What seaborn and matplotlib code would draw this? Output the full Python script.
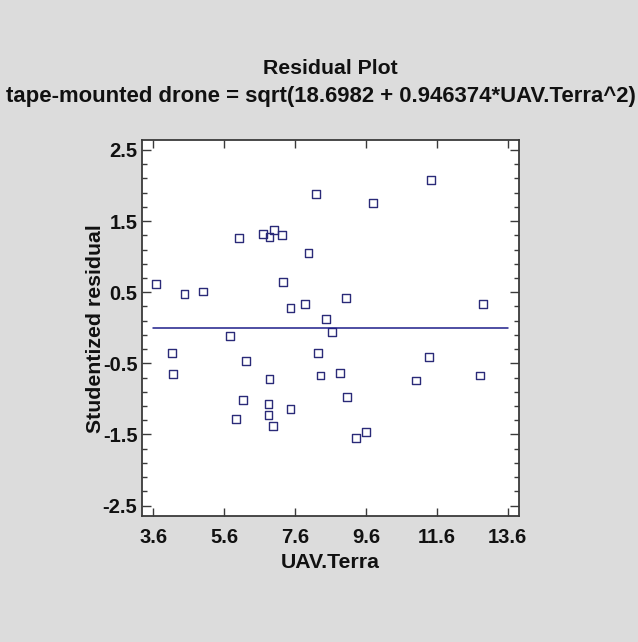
import numpy as np
import pandas as pd
import matplotlib
matplotlib.use("Agg")
import matplotlib.pyplot as plt
from matplotlib.ticker import FixedLocator, MultipleLocator
import seaborn as sns

# ---- data ----
uav_terra = [3.67, 4.48, 5.00, 6.01, 6.69, 6.88, 7.01, 7.23, 7.25, 7.47, 7.89, 7.98, 5.76,
             4.13, 4.16, 6.22, 6.88, 6.13, 6.85, 6.85, 5.94, 6.98, 7.47,
             8.19, 9.80, 11.44, 9.04, 8.47, 8.64, 12.91,
             8.26, 8.32, 8.88, 9.07, 9.33, 9.61, 11.39, 11.01, 12.82]
stud_resid = [0.61, 0.47, 0.51, 1.26, 1.32, 1.28, 1.37, 1.31, 0.64, 0.28, 0.34, 1.05, -0.11,
              -0.35, -0.65, -0.47, -0.72, -1.02, -1.07, -1.22, -1.28, -1.38, -1.14,
              1.88, 1.76, 2.08, 0.42, 0.12, -0.06, 0.34,
              -0.36, -0.67, -0.63, -0.97, -1.55, -1.47, -0.41, -0.74, -0.67]
zero_line_x = [3.6, 13.6]
zero_line_y = [0.0, 0.0]
x_ticks = [3.6, 5.6, 7.6, 9.6, 11.6, 13.6]
y_ticks = [-2.5, -1.5, -0.5, 0.5, 1.5, 2.5]
title_1 = "Residual Plot"
title_2 = "tape-mounted drone = sqrt(18.6982 + 0.946374*UAV.Terra^2)"
x_label = "UAV.Terra"
y_label = "Studentized residual"

df = pd.DataFrame({"x": uav_terra, "y": stud_resid})
line_df = pd.DataFrame({"x": zero_line_x, "y": zero_line_y})

sns.set_style("ticks")
plt.rcParams["font.family"] = ["Liberation Sans", "DejaVu Sans"]
plt.rcParams["font.weight"] = "bold"

BG = "#DCDCDC"
NAVY = "#2A2A78"
LINE = "#1E1E8A"
SPINE = "#3A3A3A"

fig = plt.figure(figsize=(6.38, 6.42), dpi=100, facecolor=BG)
ax = fig.add_axes([142.3 / 638, 1 - 516.3 / 642, (519 - 142.3) / 638, (516.3 - 140) / 642])
ax.set_facecolor("white")

sns.lineplot(data=line_df, x="x", y="y", ax=ax, color=LINE, linewidth=1.1)
sns.scatterplot(data=df, x="x", y="y", ax=ax, marker="s", s=32,
                facecolor="none", edgecolor=NAVY, linewidth=1.0)

ax.set_xlim(3.29, 13.92)
ax.set_ylim(-2.65, 2.64)

ax.xaxis.set_major_locator(FixedLocator(x_ticks))
ax.set_xticklabels([f"{v:.1f}" for v in x_ticks])
ax.yaxis.set_major_locator(FixedLocator(y_ticks))
ax.set_yticklabels([f"{v:.1f}" for v in y_ticks])
ax.yaxis.set_minor_locator(MultipleLocator(0.2, offset=0.1))

ax.tick_params(axis="x", which="major", direction="in", top=True, bottom=True,
               length=5.5, width=1.0, color=SPINE, labelsize=14.5, pad=8.5)
ax.tick_params(axis="y", which="major", direction="in", left=True, right=True,
               length=6.5, width=1.0, color=SPINE, labelsize=14.5, pad=3.5)
ax.tick_params(axis="y", which="minor", direction="in", left=True, right=True,
               length=3.6, width=1.0, color=SPINE)
for lab in ax.get_xticklabels() + ax.get_yticklabels():
    lab.set_fontweight("bold")
    lab.set_color("#111111")

for sp in ax.spines.values():
    sp.set_color(SPINE)
    sp.set_linewidth(1.3)
    sp.set_visible(True)

ax.set_xlabel(x_label, fontsize=15.3, fontweight="bold", color="#111111", labelpad=4.5)
ax.set_ylabel(y_label, fontsize=15.3, fontweight="bold", color="#111111")
ax.yaxis.set_label_coords(-0.099, 0.5)

fig.text(330 / 638, 1 - 74.3 / 642, title_1, ha="center", va="baseline",
         fontsize=15.3, fontweight="bold", color="#111111")
fig.text(320.5 / 638, 1 - 101.7 / 642, title_2, ha="center", va="baseline",
         fontsize=15.9, fontweight="bold", color="#111111")

fig.savefig("out.png", dpi=100, facecolor=BG)
